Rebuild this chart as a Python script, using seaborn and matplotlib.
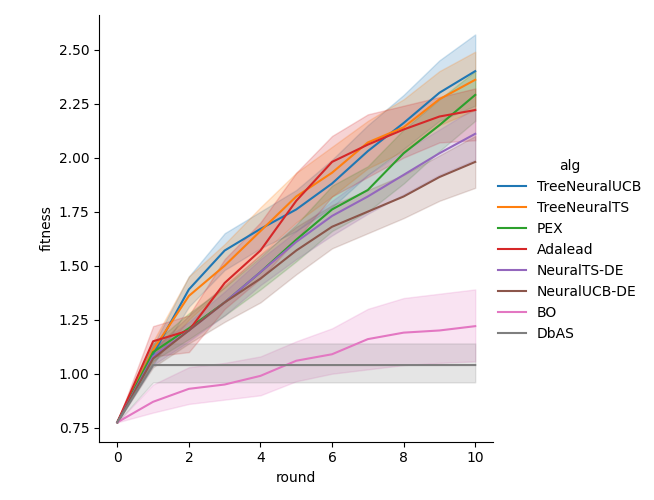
import numpy as np
import pandas as pd
import seaborn as sns
import matplotlib
matplotlib.use("Agg")
import matplotlib.pyplot as plt

rounds = list(range(11))
algs = ["TreeNeuralUCB", "TreeNeuralTS", "PEX", "Adalead", "NeuralTS-DE",
        "NeuralUCB-DE", "BO", "DbAS"]

tree_ucb_mean = [0.775, 1.09, 1.39, 1.57, 1.67, 1.76, 1.88, 2.03, 2.16, 2.30, 2.40]
tree_ucb_lo   = [0.775, 1.04, 1.31, 1.48, 1.58, 1.66, 1.77, 1.92, 2.04, 2.17, 2.24]
tree_ucb_hi   = [0.775, 1.13, 1.45, 1.65, 1.75, 1.85, 1.99, 2.15, 2.29, 2.45, 2.57]

tree_ts_mean = [0.775, 1.11, 1.36, 1.50, 1.66, 1.82, 1.93, 2.07, 2.14, 2.27, 2.36]
tree_ts_lo   = [0.775, 1.05, 1.25, 1.40, 1.55, 1.70, 1.82, 1.95, 2.03, 2.15, 2.22]
tree_ts_hi   = [0.775, 1.15, 1.45, 1.60, 1.77, 1.93, 2.05, 2.17, 2.27, 2.40, 2.49]

pex_mean = [0.775, 1.10, 1.21, 1.33, 1.47, 1.62, 1.76, 1.85, 2.02, 2.15, 2.29]
pex_lo   = [0.775, 1.06, 1.16, 1.27, 1.39, 1.52, 1.66, 1.75, 1.88, 2.03, 2.17]
pex_hi   = [0.775, 1.14, 1.28, 1.40, 1.54, 1.69, 1.87, 1.96, 2.13, 2.27, 2.40]

adalead_mean = [0.775, 1.15, 1.20, 1.42, 1.57, 1.80, 1.98, 2.06, 2.13, 2.19, 2.22]
adalead_lo   = [0.775, 1.08, 1.10, 1.30, 1.44, 1.62, 1.82, 1.91, 2.00, 2.07, 2.08]
adalead_hi   = [0.775, 1.22, 1.27, 1.53, 1.70, 1.93, 2.10, 2.20, 2.24, 2.28, 2.32]

nts_de_mean = [0.775, 1.08, 1.20, 1.33, 1.47, 1.61, 1.73, 1.82, 1.92, 2.02, 2.11]
nts_de_lo   = [0.775, 1.04, 1.15, 1.27, 1.41, 1.53, 1.64, 1.74, 1.83, 1.92, 1.99]
nts_de_hi   = [0.775, 1.12, 1.24, 1.38, 1.53, 1.66, 1.80, 1.92, 2.03, 2.13, 2.23]

nucb_de_mean = [0.775, 1.07, 1.20, 1.33, 1.44, 1.57, 1.68, 1.75, 1.82, 1.91, 1.98]
nucb_de_lo   = [0.775, 1.03, 1.14, 1.24, 1.33, 1.46, 1.58, 1.65, 1.72, 1.80, 1.86]
nucb_de_hi   = [0.775, 1.11, 1.27, 1.41, 1.55, 1.68, 1.78, 1.85, 1.92, 2.01, 2.10]

bo_mean = [0.775, 0.87, 0.93, 0.95, 0.99, 1.06, 1.09, 1.16, 1.19, 1.20, 1.22]
bo_lo   = [0.775, 0.82, 0.86, 0.88, 0.90, 0.965, 1.00, 1.02, 1.04, 1.05, 1.057]
bo_hi   = [0.775, 0.95, 1.03, 1.05, 1.08, 1.15, 1.21, 1.30, 1.35, 1.37, 1.39]

dbas_mean = [0.775, 1.04, 1.04, 1.04, 1.04, 1.04, 1.04, 1.04, 1.04, 1.04, 1.04]
dbas_lo   = [0.775, 0.96, 0.96, 0.96, 0.96, 0.96, 0.96, 0.96, 0.96, 0.96, 0.96]
dbas_hi   = [0.775, 1.14, 1.14, 1.14, 1.14, 1.14, 1.14, 1.14, 1.14, 1.14, 1.14]

means = [tree_ucb_mean, tree_ts_mean, pex_mean, adalead_mean, nts_de_mean,
         nucb_de_mean, bo_mean, dbas_mean]
lows = [tree_ucb_lo, tree_ts_lo, pex_lo, adalead_lo, nts_de_lo, nucb_de_lo, bo_lo, dbas_lo]
highs = [tree_ucb_hi, tree_ts_hi, pex_hi, adalead_hi, nts_de_hi, nucb_de_hi, bo_hi, dbas_hi]

rows = []
for a, m, lo, hi in zip(algs, means, lows, highs):
    for r, v, l, h in zip(rounds, m, lo, hi):
        rows.append({"round": r, "fitness": v, "lo": l, "hi": h, "alg": a})
df = pd.DataFrame(rows)

palette = sns.color_palette("tab10", len(algs))
g = sns.relplot(data=df, x="round", y="fitness", hue="alg", kind="line",
                errorbar=None, hue_order=algs, palette=palette, height=5, aspect=1)
ax = g.ax
for a, c in zip(algs, palette):
    sub = df[df["alg"] == a]
    ax.fill_between(sub["round"], sub["lo"], sub["hi"], color=c, alpha=0.2)

ax.set_yticks([0.75, 1.00, 1.25, 1.50, 1.75, 2.00, 2.25, 2.50])
ax.set_xticks([0, 2, 4, 6, 8, 10])
g.figure.set_size_inches(6.54, 5.0)
g.figure.subplots_adjust(left=0.152, right=0.754)
g.figure.savefig("out.png", dpi=100)
